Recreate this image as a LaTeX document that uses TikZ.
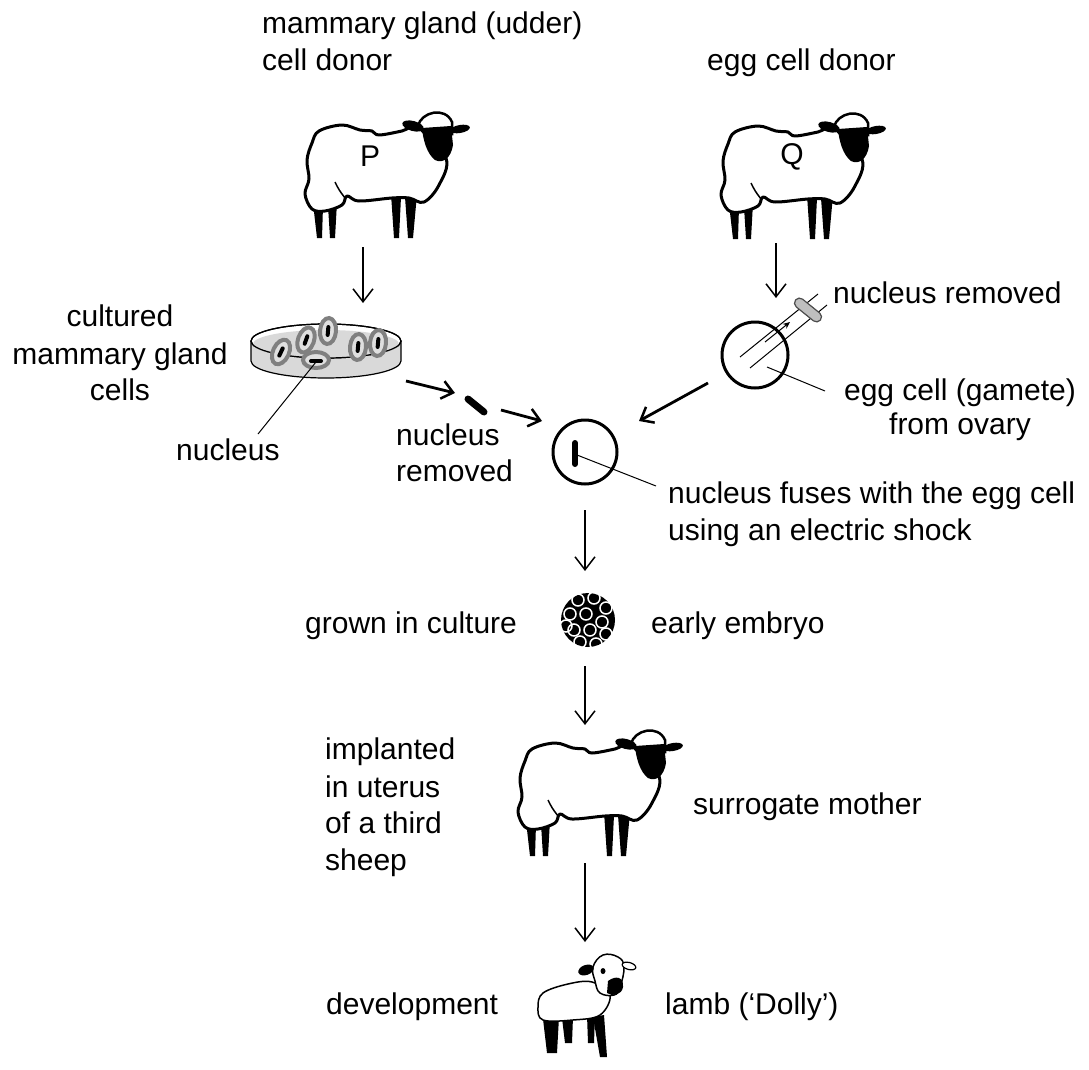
\documentclass[tikz,border=0pt]{standalone}
\usepackage{fontspec}
\setmainfont{Liberation Sans}
\usetikzlibrary{arrows.meta}
\begin{document}
\begin{tikzpicture}[x=1pt,y=-1pt,
  lbl/.style={anchor=base west,inner sep=0pt,font=\fontsize{30}{36}\selectfont},
  lblc/.style={anchor=base,inner sep=0pt,font=\fontsize{30}{36}\selectfont},
  flow/.style={line width=1.5pt,-{Straight Barb[length=13pt,width=20pt,line width=1.5pt]}},
  flowb/.style={line width=2.8pt,-{Straight Barb[length=11pt,width=18pt,line width=2.5pt]}},
  pointer/.style={line width=1pt},
  sheep/.pic={
    \fill (8,93) -- (12,128) -- (17,128) -- (18,96) -- cycle;
    \fill (23,96) -- (25,128) -- (30,128) -- (32,92) -- cycle;
    \fill (86,84) -- (89,128) -- (94,128) -- (96,87) -- cycle;
    \fill (100,87) -- (103,128) -- (108,128) -- (112,84) -- cycle;
    \draw[line width=3pt,fill=white,line join=round] plot[smooth cycle,tension=0.6] coordinates {
      (7,33) (14,21) (37,15) (55,20) (67,21) (74,25) (97,21) (114,17) (141,48) (134,75) (119,92)
      (104,88) (87,88) (54,91) (42,86) (37,95) (20,101) (7,99) (0,84) (4,69) (2,50)};
    \draw[line width=1.5pt] (30,72) .. controls (34,80) .. (40,88);
    \draw[line width=2.5pt,fill=white] (113,16) .. controls (116,2) and (140,-4) .. (147,12) -- (147,24) -- (118,22) -- cycle;
    \fill (117,18) -- (146,16) -- (148,35) .. controls (146,48) and (138,54) .. (130,50) .. controls (122,44) and (118,30) .. cycle;
    \fill[rotate around={-15:(108,16)}] (108,16) ellipse[x radius=11,y radius=5];
    \fill[rotate around={10:(155,19)}] (155,19) ellipse[x radius=10,y radius=4];
  },
  lamb/.pic={
    \fill (5,66) -- (9,100) -- (19,100) -- (21,64) -- cycle;
    \fill (24,65) -- (27,90) -- (34,90) -- (35,64) -- cycle;
    \fill (49,62) -- (50,90) -- (56,90) -- (57,62) -- cycle;
    \fill (55,64) -- (62,104) -- (69,104) -- (66,62) -- cycle;
    \draw[line width=1.5pt,fill=white] plot[smooth cycle,tension=0.6] coordinates {
      (54,29) (30,31) (5,40) (0,54) (5,67) (35,67) (62,62) (72,42)};
    \draw[line width=1.5pt,fill=white] plot[smooth cycle,tension=0.7] coordinates {
      (55,14) (65,2) (80,4) (86,14) (82,34) (76,42) (62,40) (57,28)};
    \fill[rotate around={20:(48,17)}] (48,17) ellipse[x radius=8,y radius=5];
    \draw[line width=1.2pt,fill=white,rotate around={-15:(91,13)}] (91,13) ellipse[x radius=7,y radius=3.5];
    \fill (65,18) ellipse[x radius=2.5,y radius=3];
    \fill (70,28) .. controls (78,22) and (86,24) .. (85,34) .. controls (84,42) and (74,44) .. (69,40) -- cycle;
  },
  cell/.style={draw=gray,line width=4pt,fill=gray!25}
]
\useasboundingbox (0,0) rectangle (1089,1070);

% top labels
\node[lbl] (tP1) at (262,34) {mammary gland (udder)};
\node[lbl] (tP2) at (262,71) {cell donor};
\node[lbl] (tQ) at (707,71) {egg cell donor};

% sheep P and Q
\pic at (305,110) {sheep};
\node[inner sep=0pt,font=\fontsize{30}{36}\selectfont] (P) at (370,156) {P};
\pic at (721,111) {sheep};
\node[inner sep=0pt,font=\fontsize{30}{36}\selectfont] (Q) at (792,157) {Q};
\coordinate (pA) at (363,247);
\coordinate (pB) at (363,303);
\draw[flow] (pA) -- (pB);
\coordinate (qA) at (776,243);
\coordinate (qB) at (776,298);
\draw[flow] (qA) -- (qB);

% petri dish
\filldraw[fill=gray!30,line width=1.2pt] (251,341) -- (251,361) arc[start angle=180,end angle=0,x radius=75,y radius=17] -- (401,341);
\filldraw[fill=white,line width=1.2pt] (326,341) ellipse[x radius=75,y radius=17];
\fill[gray!30] (326,344) ellipse[x radius=73,y radius=14];
\draw[line width=1.2pt] (326,341) ellipse[x radius=75,y radius=17];
\foreach \x/\y/\r in {281/352/-25,306/340/-20,328/331/-5,358/347/-5,378/343/-5}{
  \draw[cell,rotate around={\r:(\x,\y)}] (\x,\y) ellipse[x radius=8,y radius=13];
  \draw[line width=4pt,line cap=round,rotate around={\r:(\x,\y)}] (\x,\y-4) -- (\x,\y+4);
}
\draw[cell] (316,360) ellipse[x radius=13,y radius=8];
\draw[line width=4pt,line cap=round] (311,361) -- (321,361);
\coordinate (dishN) at (316,362);
\node[lblc] (tcult1) at (120,326) {cultured};
\node[lblc] (tcult2) at (120,364) {mammary gland};
\node[lblc] (tcult3) at (120,400) {cells};
\node[lbl] (tnuc) at (176,460) {nucleus};
\coordinate (nucEnd) at (258,434);
\draw[pointer] (dishN) -- (nucEnd);

% removed nucleus
\coordinate (a1s) at (406,381);
\coordinate (a1e) at (455,393);
\draw[flowb] (a1s) -- (a1e);
\coordinate (rn1) at (468,399);
\coordinate (rn2) at (484,412);
\draw[line width=7pt,line cap=round] (rn1) -- (rn2);
\coordinate (a2s) at (501,410);
\coordinate (a2e) at (542,421);
\draw[flowb] (a2s) -- (a2e);
\node[lbl] (tnr1) at (396,445) {nucleus};
\node[lbl] (tnr2) at (396,481) {removed};

% egg cell Q
\node[draw,circle,line width=3pt,minimum size=66pt,inner sep=0pt] (egg) at (755,355) {};
\draw[line width=1pt] (740,357) -- (818,294);
\draw[line width=1pt] (750,368) -- (827,305);
\draw[draw=gray!60!black,fill=gray!50,line width=1.2pt,rounded corners=5pt,rotate around={-39:(808,310)}] (792,305) rectangle (824,315);
\draw[line width=1pt,-{Stealth[length=7pt,width=6pt]}] (765,342) -- (790,322);
\node[lbl] (tnrQ) at (833,303) {nucleus removed};
\node[lblc] (tegg1) at (960,400) {egg cell (gamete)};
\node[lblc] (tegg2) at (960,434) {from ovary};
\coordinate (eggP) at (767,367);
\coordinate (eggE) at (825,391);
\draw[pointer] (eggP) -- (eggE);
\coordinate (a3s) at (708,383);
\coordinate (a3e) at (639,421);
\draw[flowb] (a3s) -- (a3e);

% fused cell
\node[draw,circle,line width=3pt,minimum size=64pt,inner sep=0pt] (fused) at (585,452) {};
\draw[line width=6pt,line cap=round] (575,443) -- (575,464);
\coordinate (fuP) at (577,455);
\coordinate (fuE) at (656,486);
\draw[pointer] (fuP) -- (fuE);
\node[lbl] (tfuse1) at (668,503) {nucleus fuses with the egg cell};
\node[lbl] (tfuse2) at (668,540) {using an electric shock};
\coordinate (a4s) at (585,510);
\coordinate (a4e) at (585,571);
\draw[flow] (a4s) -- (a4e);

% embryo
\fill (588,620) circle[radius=27];
\foreach \x/\y in {578/600,594/598,606/608,570/614,586/614,602/622,574/630,590/630,606/634,580/642,596/644,566/626}{
  \draw[white,line width=1.5pt] (\x,\y) circle[radius=6];
}
\node[lbl] (tgrown) at (305,633) {grown in culture};
\node[lbl] (tearly) at (651,633) {early embryo};
\coordinate (a5s) at (585,666);
\coordinate (a5e) at (585,725);
\draw[flow] (a5s) -- (a5e);

% surrogate
\pic at (518,728) {sheep};
\node[lbl] (timp1) at (325,759) {implanted};
\node[lbl] (timp2) at (325,797) {in uterus};
\node[lbl] (timp3) at (325,833) {of a third};
\node[lbl] (timp4) at (325,870) {sheep};
\node[lbl] (tsur) at (693,814) {surrogate mother};
\coordinate (a6s) at (585,863);
\coordinate (a6e) at (585,942);
\draw[flow] (a6s) -- (a6e);

% lamb
\pic at (538,953) {lamb};
\node[lbl] (tdev) at (326,1014) {development};
\node[lbl] (tlamb) at (665,1014) {lamb (‘Dolly’)};
\end{tikzpicture}
\end{document}
